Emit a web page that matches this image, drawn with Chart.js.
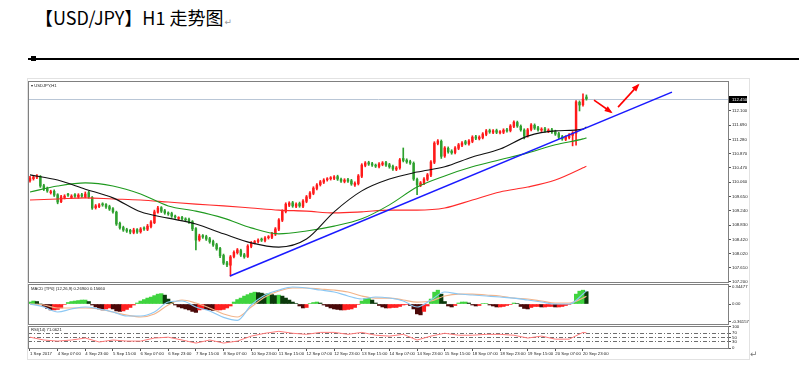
<!DOCTYPE html>
<html><head><meta charset="utf-8">
<script src="https://cdn.jsdelivr.net/npm/chart.js@4/dist/chart.umd.min.js"></script>
<style>
html,body{margin:0;padding:0;background:#fff;width:799px;height:377px;overflow:hidden;position:relative}
canvas{position:absolute;left:0}
#title{position:absolute;left:35px;top:8px;font-family:"Noto Sans CJK SC",sans-serif;font-size:18px;line-height:18px;color:#000;white-space:nowrap}
.ret{font-family:"DejaVu Sans",sans-serif;font-size:9px;color:#999;margin-left:1px}
#rule{position:absolute;left:28px;top:58px;width:771px;height:2px;background:#000}
#sq{position:absolute;left:31px;top:56px;width:5px;height:5px;background:#000}
#shot{position:absolute;left:27px;top:78px;width:721px;height:280px;border:1px solid #e2e2e2}
.lbl{position:absolute;font-family:"Liberation Sans",Arial,sans-serif;font-size:4.2px;line-height:5px;color:#222;white-space:nowrap}
#ret2{position:absolute;left:750px;top:349px;font-family:"DejaVu Sans",sans-serif;font-size:9px;color:#777}
</style></head><body>
<div id="title">【USD/JPY】H1 走势图<span class="ret">↵</span></div>
<div id="rule"></div><div id="sq"></div>
<div id="shot"></div>
<canvas id="cMain" width="799" height="216" style="top:74px"></canvas>
<canvas id="cMacd" width="799" height="50" style="top:280px"></canvas>
<canvas id="cRsi" width="799" height="41" style="top:321px"></canvas>
<div class="lbl" style="left:31px;top:83px">▾ USDJPY,H1</div>
<div class="lbl" style="left:31px;top:286px">MACD [TP0] (12,26,9) 0.26900 0.15660</div>
<div class="lbl" style="left:31px;top:327px">RSI(14) 71.0621</div>
<div id="ret2">↵</div>
<script>
// ---------------- DATA ----------------
const BARS_PER_CANDLE = 2;   // each drawn candle = 2 hourly bars
const LABEL_EVERY = 16;      // time label every 16 hourly bars
const candleOpen = [
110.10,110.16,110.20,110.22,109.96,109.88,109.76,109.80,109.70,109.50,
109.62,109.70,109.62,109.70,109.64,109.70,109.64,109.76,109.62,109.33,
109.36,109.44,109.42,109.36,109.30,109.20,108.88,108.76,108.70,108.68,
108.62,108.70,108.64,108.74,108.71,108.79,108.90,109.20,109.33,109.24,
109.17,109.16,109.08,109.02,109.05,109.00,108.99,108.93,108.73,108.41,
108.53,108.50,108.44,108.36,108.27,108.16,107.96,107.75,107.68,107.93,
108.04,108.10,107.98,107.93,108.22,108.33,108.36,108.42,108.39,108.47,
108.48,108.57,108.71,108.97,109.22,109.40,109.47,109.37,109.45,109.37,
109.51,109.63,109.74,109.88,109.99,110.06,110.13,110.16,110.17,110.22,
110.14,110.08,110.13,110.10,109.98,110.02,110.23,110.54,110.62,110.59,
110.54,110.51,110.57,110.62,110.56,110.51,110.43,110.47,110.74,110.69,
110.65,110.60,110.14,109.97,110.03,110.14,110.26,110.63,111.17,111.23,
110.81,111.03,110.95,110.91,111.03,111.12,111.22,111.16,111.23,111.36,
111.31,111.34,111.43,111.54,111.49,111.54,111.48,111.49,111.56,111.54,
111.66,111.77,111.66,111.55,111.39,111.57,111.69,111.62,111.55,111.59,
111.52,111.56,111.51,111.45,111.36,111.29,111.34,111.40,111.46,112.35,
112.28,112.50];
const candleHigh = [
110.23,110.25,110.28,110.25,110.00,109.92,109.83,109.84,109.73,109.68,
109.70,109.74,109.70,109.73,109.73,109.74,109.78,109.80,109.65,109.42,
109.45,109.47,109.45,109.40,109.33,109.23,108.92,108.80,108.74,108.71,
108.74,108.73,108.76,108.78,108.85,108.96,109.26,109.37,109.36,109.28,
109.21,109.20,109.12,109.07,109.08,109.04,109.03,108.96,108.76,108.57,
108.56,108.54,108.48,108.40,108.31,108.19,108.00,107.79,107.96,108.09,
108.16,108.14,108.02,108.27,108.36,108.39,108.44,108.46,108.50,108.53,
108.62,108.76,109.02,109.27,109.47,109.50,109.51,109.47,109.49,109.56,
109.68,109.79,109.93,110.02,110.11,110.16,110.19,110.22,110.25,110.26,
110.18,110.16,110.17,110.14,110.07,110.28,110.59,110.65,110.66,110.63,
110.58,110.62,110.65,110.66,110.60,110.55,110.51,110.74,111.04,110.73,
110.69,110.64,110.18,110.08,110.19,110.31,110.68,111.22,111.28,111.27,
111.08,111.07,110.99,111.08,111.17,111.22,111.26,111.28,111.39,111.40,
111.39,111.48,111.57,111.58,111.57,111.58,111.54,111.59,111.60,111.71,
111.82,111.81,111.70,111.59,111.60,111.74,111.73,111.66,111.62,111.63,
111.59,111.60,111.55,111.49,111.40,111.39,111.45,111.51,112.40,112.39,
112.59,112.56];
const candleLow = [
110.06,110.12,110.16,109.91,109.82,109.77,109.72,109.65,109.44,109.47,
109.58,109.65,109.59,109.62,109.60,109.62,109.61,109.60,109.28,109.29,
109.33,109.37,109.31,109.25,109.17,108.82,108.71,108.65,108.62,108.58,
108.58,108.59,108.60,108.68,108.67,108.75,108.87,109.17,109.19,109.14,
109.11,109.05,109.02,108.98,108.97,108.94,108.88,108.67,108.12,108.37,
108.45,108.39,108.31,108.22,108.11,107.90,107.70,107.64,107.37,107.89,
108.00,107.93,107.88,107.90,108.18,108.29,108.32,108.36,108.35,108.43,
108.44,108.53,108.67,108.93,109.18,109.36,109.34,109.33,109.34,109.33,
109.47,109.59,109.70,109.84,109.95,110.02,110.09,110.12,110.13,110.11,
110.05,110.04,110.05,109.97,109.94,109.98,110.19,110.50,110.54,110.51,
110.48,110.47,110.53,110.51,110.46,110.40,110.39,110.43,110.64,110.60,
110.57,110.11,109.70,109.93,109.99,110.10,110.22,110.59,111.13,110.74,
110.77,110.89,110.86,110.87,110.99,111.08,111.13,111.12,111.19,111.28,
111.27,111.30,111.39,111.46,111.45,111.45,111.44,111.45,111.49,111.50,
111.62,111.63,111.52,111.30,111.35,111.53,111.57,111.52,111.51,111.49,
111.48,111.46,111.40,111.31,111.26,111.25,111.30,111.10,111.12,112.10,
112.24,112.41];
const candleClose = [
110.18,110.21,110.24,109.95,109.86,109.81,109.78,109.69,109.49,109.64,
109.66,109.69,109.66,109.66,109.69,109.66,109.72,109.64,109.32,109.38,
109.41,109.41,109.35,109.29,109.21,108.86,108.75,108.69,108.66,108.63,
108.69,108.63,108.72,108.72,108.80,108.92,109.21,109.32,109.23,109.18,
109.15,109.09,109.06,109.03,109.01,108.98,108.92,108.72,108.40,108.52,
108.49,108.43,108.35,108.26,108.15,107.95,107.74,107.69,107.92,108.05,
108.12,107.97,107.92,108.23,108.32,108.35,108.40,108.40,108.46,108.49,
108.58,108.72,108.98,109.23,109.43,109.46,109.38,109.43,109.38,109.52,
109.64,109.75,109.89,109.98,110.07,110.12,110.15,110.18,110.21,110.15,
110.09,110.12,110.09,110.01,110.03,110.24,110.55,110.61,110.58,110.55,
110.52,110.58,110.61,110.55,110.50,110.44,110.47,110.70,110.68,110.64,
110.61,110.15,109.98,110.04,110.15,110.27,110.64,111.18,111.24,110.80,
111.04,110.93,110.90,111.04,111.13,111.18,111.17,111.24,111.35,111.32,
111.35,111.44,111.53,111.50,111.53,111.49,111.50,111.55,111.53,111.67,
111.78,111.67,111.56,111.38,111.56,111.70,111.61,111.56,111.58,111.53,
111.55,111.50,111.44,111.35,111.30,111.35,111.41,111.47,112.36,112.27,
112.44,112.45];

// moving averages sampled every 16 hourly bars (+ last bar)
const maBars  = [0,16,32,48,64,80,96,112,128,144,160,176,192,208,224,240,256,272,288,304,320,322];
const maBlack = [110.27,110.12,109.86,109.61,109.21,109.03,108.86,108.58,108.32,108.20,108.43,109.21,109.81,110.15,110.35,110.50,110.78,111.01,111.38,111.53,111.58,111.64];
const maGreen = [109.78,109.95,110.04,109.95,109.72,109.38,109.23,109.03,108.75,108.58,108.66,108.80,109.01,109.41,109.92,110.24,110.50,110.70,110.90,111.13,111.30,111.33];
const maRed   = [109.55,109.58,109.61,109.58,109.55,109.49,109.43,109.38,109.32,109.26,109.23,109.18,109.21,109.26,109.26,109.32,109.55,109.78,109.92,110.12,110.47,110.52];

// trend line and annotation arrows (bar index, price)
const trendBars = [115.7, 371.5];   const trendPrices = [107.37, 112.64];
const arrow1Bars = [326.4, 336.2];  const arrow1Prices = [112.41, 112.07];
const arrow2Bars = [340.3, 351.9];  const arrow2Prices = [112.21, 112.84];

const priceTicks = ['107.200','107.610','108.020','108.420','108.830','109.240','109.650','110.060','110.470','110.870','111.280','111.690','112.100'];
const lastPriceLabel = '112.450';
const timeLabels = ['1 Sep 2017','4 Sep 07:00','4 Sep 23:00','5 Sep 15:00','6 Sep 07:00','6 Sep 23:00','7 Sep 15:00','8 Sep 07:00','10 Sep 23:00','11 Sep 15:00','12 Sep 07:00','12 Sep 23:00','13 Sep 15:00','14 Sep 07:00','14 Sep 23:00','15 Sep 15:00','18 Sep 07:00','18 Sep 23:00','19 Sep 15:00','20 Sep 07:00','20 Sep 23:00'];

// MACD histogram (per drawn candle)
const macdHist = [
0.04,0.06,0.05,0.00,-0.05,-0.09,-0.12,-0.12,-0.11,-0.08,-0.01,0.03,0.05,0.06,0.07,0.08,0.08,0.05,
-0.02,-0.06,-0.10,-0.12,-0.10,
-0.08,-0.10,-0.14,-0.15,-0.14,-0.11,-0.07,
-0.02,0.02,0.06,0.09,0.12,0.14,0.17,0.20,
0.21,0.18,
0.10,0.04,-0.02,-0.06,-0.08,-0.10,-0.12,-0.15,-0.17,
-0.12,-0.10,-0.11,-0.12,-0.13,-0.12,-0.12,-0.11,-0.08,-0.04,
0.04,0.09,0.12,0.16,0.19,0.22,0.24,0.23,
0.22,0.20,0.21,0.19,0.17,0.18,0.16,0.12,0.08,0.04,
0.01,
-0.04,-0.08,-0.07,
0.01,0.03,0.04,0.02,
-0.02,-0.05,-0.08,-0.10,-0.11,-0.12,-0.12,-0.11,-0.10,-0.07,
-0.01,0.06,0.11,0.12,0.08,
0.02,-0.03,-0.06,-0.08,-0.08,-0.07,
-0.07,-0.05,-0.02,
-0.01,-0.03,
-0.10,-0.20,-0.22,-0.15,
-0.04,0.10,0.24,0.28,0.20,
0.05,-0.04,-0.06,-0.03,
0.02,0.04,0.04,0.02,
-0.02,-0.04,-0.03,0.01,
0.01,
-0.02,-0.04,-0.06,-0.06,-0.05,-0.03,-0.01,
0.02,0.01,
-0.05,-0.09,-0.10,-0.07,-0.05,
-0.05,-0.06,-0.06,-0.05,-0.05,-0.06,-0.06,-0.05,-0.03,
-0.01,0.01,
0.20,0.26,0.28,0.25];

// oscillator lines sampled every 8 hourly bars (+ last bar)
const oscBars = [0,8,16,24,32,40,48,56,64,72,80,88,96,104,112,120,128,136,144,152,160,168,176,184,192,200,208,216,224,232,240,248,256,264,272,280,288,296,304,312,320,322];
const macdMain = [0,-0.061,-0.162,-0.101,-0.061,-0.101,-0.162,-0.243,-0.243,-0.162,0.040,0.061,-0.061,-0.142,-0.27,-0.33,-0.020,0.182,0.283,0.344,0.324,0.283,0.243,0.162,0.101,0.142,0.121,0.061,-0.061,0.081,0.243,0.202,0.182,0.162,0.142,0.121,0.081,0.040,0,0,0.202,0.269];
const macdSignal = [0,-0.020,-0.081,-0.081,-0.081,-0.101,-0.162,-0.223,-0.263,-0.202,-0.020,0.081,0.020,-0.081,-0.202,-0.263,-0.061,0.142,0.263,0.324,0.324,0.304,0.283,0.243,0.162,0.121,0.121,0.081,0.040,0.061,0.162,0.202,0.202,0.182,0.162,0.121,0.101,0.061,0.020,0.020,0.121,0.157];
const macdTicks = ['-0.36157','0.00','0.34477'];
const rsiValues = [51,38,33,38,47,29,38,33,33,47,51,38,24,38,24,33,56,69,78,69,64,73,73,64,73,60,56,64,38,56,69,60,60,64,64,60,47,56,42,42,73,71];
const rsiTicks = ['0','30','50','70','100'];

// ---------------- RENDER ----------------
Chart.defaults.animation = false;
Chart.defaults.events = [];
const TICK_FONT = {family: 'Liberation Sans', size: 4.3};
const X_MIN = -1.157, X_MAX = 404.5;
const UP = '#ff1a1a', DOWN = '#2ea02e';

function xAxis(show) {
  const ax = {
    type: 'linear', min: X_MIN, max: X_MAX, offset: false, display: show,
    grid: {display: show, drawOnChartArea: false, drawTicks: true, tickLength: 2, color: '#555'},
    border: {display: false},
    afterBuildTicks: s => { s.ticks = timeLabels.map((_, i) => ({value: i * LABEL_EVERY})); },
    ticks: {autoSkip: false, maxRotation: 0, minRotation: 0, align: 'start', padding: 0, color: '#222', font: TICK_FONT,
            callback: (v, i) => timeLabels[i]}
  };
  if (show) ax.afterFit = s => { s.height = 13; };
  return ax;
}
function yAxis(min, max, labels, extra) {
  return Object.assign({
    position: 'right', min, max,
    afterBuildTicks: s => { s.ticks = labels.map(t => ({value: parseFloat(t)})); },
    ticks: {autoSkip: false, padding: 1, color: '#222', font: TICK_FONT, callback: (v, i) => labels[i]},
    grid: {drawOnChartArea: false, drawTicks: true, tickLength: 2, color: '#555'},
    border: {display: false},
    afterFit: s => { s.width = 70; }
  }, extra || {});
}
const framePlugin = {
  id: 'frame',
  afterDraw(chart) {
    const {ctx, chartArea: a} = chart;
    ctx.save(); ctx.strokeStyle = '#808080'; ctx.lineWidth = 1;
    ctx.strokeRect(a.left + 0.5, a.top + 0.5, a.right - a.left - 1, a.bottom - a.top - 1);
    ctx.restore();
  }
};
const lastClose = candleClose[candleClose.length - 1];
const mainOverlay = {
  id: 'mainOverlay',
  beforeDatasetsDraw(chart) {
    const {ctx, chartArea: a} = chart;
    const y = Math.round(chart.scales.y.getPixelForValue(lastClose)) + 0.5;
    ctx.save(); ctx.strokeStyle = '#b9c6d6'; ctx.lineWidth = 1;
    ctx.beginPath(); ctx.moveTo(a.left, y); ctx.lineTo(a.right, y); ctx.stroke(); ctx.restore();
  },
  afterDatasetsDraw(chart) {
    const ctx = chart.ctx;
    chart.data.datasets.forEach((ds, i) => {
      if (!ds.arrowHead) return;
      const pts = chart.getDatasetMeta(i).data;
      const p0 = pts[pts.length - 2], p1 = pts[pts.length - 1];
      const ang = Math.atan2(p1.y - p0.y, p1.x - p0.x), L = 6, W = 3;
      ctx.save(); ctx.fillStyle = ds.borderColor;
      ctx.beginPath();
      ctx.moveTo(p1.x + Math.cos(ang) * 2, p1.y + Math.sin(ang) * 2);
      ctx.lineTo(p1.x - Math.cos(ang) * L - Math.sin(ang) * W, p1.y - Math.sin(ang) * L + Math.cos(ang) * W);
      ctx.lineTo(p1.x - Math.cos(ang) * L + Math.sin(ang) * W, p1.y - Math.sin(ang) * L - Math.cos(ang) * W);
      ctx.closePath(); ctx.fill(); ctx.restore();
    });
  },
  afterDraw(chart) {
    const {ctx, chartArea: a} = chart;
    const y = Math.round(chart.scales.y.getPixelForValue(lastClose));
    ctx.save(); ctx.fillStyle = '#000'; ctx.fillRect(a.right, y - 3, 18, 7);
    ctx.fillStyle = '#fff'; ctx.font = '4.3px "Liberation Sans"'; ctx.textBaseline = 'middle';
    ctx.fillText(lastPriceLabel, a.right + 3, y + 0.5); ctx.restore();
  }
};

const candleXs = candleClose.map((_, k) => k * BARS_PER_CANDLE);
const isUp = k => candleClose[k] >= candleOpen[k];
const pts = (xs, ys) => xs.map((x, i) => ({x, y: ys[i]}));

new Chart(document.getElementById('cMain'), {
  type: 'bar',
  data: {datasets: [
    {type: 'bar', data: candleXs.map((x, k) => ({x, y: [candleLow[k], candleHigh[k]]})), grouped: false, barThickness: 1,
     backgroundColor: c => isUp(c.dataIndex) ? UP : DOWN, order: 10},
    {type: 'bar', data: candleXs.map((x, k) => ({x, y: [candleOpen[k], candleClose[k]]})), grouped: false, barThickness: 1.8, minBarLength: 1,
     backgroundColor: c => isUp(c.dataIndex) ? UP : DOWN, order: 9},
    {type: 'line', data: pts(maBars, maRed), borderColor: '#ff2a2a', borderWidth: 1.1, pointRadius: 0, cubicInterpolationMode: 'monotone', order: 6},
    {type: 'line', data: pts(maBars, maGreen), borderColor: '#1f9a1f', borderWidth: 1.1, pointRadius: 0, cubicInterpolationMode: 'monotone', order: 5},
    {type: 'line', data: pts(maBars, maBlack), borderColor: '#111', borderWidth: 1.1, pointRadius: 0, cubicInterpolationMode: 'monotone', order: 4},
    {type: 'line', data: pts(trendBars, trendPrices), borderColor: '#1a1aff', borderWidth: 1.6, pointRadius: 0, order: 2},
    {type: 'line', data: pts(arrow1Bars, arrow1Prices), borderColor: '#ff0000', borderWidth: 1.6, pointRadius: 0, arrowHead: true, order: 1},
    {type: 'line', data: pts(arrow2Bars, arrow2Prices), borderColor: '#ff0000', borderWidth: 1.6, pointRadius: 0, arrowHead: true, order: 1}
  ]},
  options: {
    responsive: false, layout: {padding: {left: 28, right: 0, top: 7, bottom: 7}},
    plugins: {legend: {display: false}, tooltip: {enabled: false}},
    scales: {x: xAxis(false), y: yAxis(107.171, 112.959, priceTicks)}
  },
  plugins: [framePlugin, mainOverlay]
});

new Chart(document.getElementById('cMacd'), {
  type: 'bar',
  data: {datasets: [
    {type: 'bar', data: candleXs.map((x, k) => ({x, y: macdHist[k]})), grouped: false, barThickness: 3.5,
     backgroundColor: c => { const i = c.dataIndex, v = macdHist[i], p = i > 0 ? macdHist[i - 1] : v, rising = v >= p;
       return v >= 0 ? (rising ? '#3fd43f' : '#0c3a0c') : (rising ? '#ff2020' : '#4a0808'); }, order: 5},
    {type: 'line', data: pts(oscBars, macdSignal), borderColor: '#f2b48a', borderWidth: 1.2, pointRadius: 0, cubicInterpolationMode: 'monotone', order: 2},
    {type: 'line', data: pts(oscBars, macdMain), borderColor: '#8cc8f4', borderWidth: 1.2, pointRadius: 0, cubicInterpolationMode: 'monotone', order: 1}
  ]},
  options: {
    responsive: false, layout: {padding: {left: 28, right: 0, top: 4, bottom: 5}},
    plugins: {legend: {display: false}, tooltip: {enabled: false}},
    scales: {x: xAxis(false), y: yAxis(-0.425, 0.405, macdTicks, {beginAtZero: false})}
  },
  plugins: [framePlugin]
});

new Chart(document.getElementById('cRsi'), {
  type: 'line',
  data: {datasets: [
    {data: pts(oscBars, rsiValues), borderColor: '#ff7a7a', borderWidth: 1, pointRadius: 0, tension: 0}
  ]},
  options: {
    responsive: false, layout: {padding: {left: 28, right: 0, top: 5, bottom: 0}},
    plugins: {legend: {display: false}, tooltip: {enabled: false}},
    scales: {
      x: xAxis(true),
      y: yAxis(-3.2, 102.3, rsiTicks, {
        grid: {drawOnChartArea: true, drawTicks: true, tickLength: 2,
               color: c => (c.tick && (c.tick.value === 30 || c.tick.value === 50 || c.tick.value === 70)) ? '#6e6e6e' : 'rgba(0,0,0,0)',
               tickColor: '#555'},
        border: {display: false, dash: [4, 2, 1, 2]}
      })
    }
  },
  plugins: [framePlugin]
});
</script>
</body></html>
